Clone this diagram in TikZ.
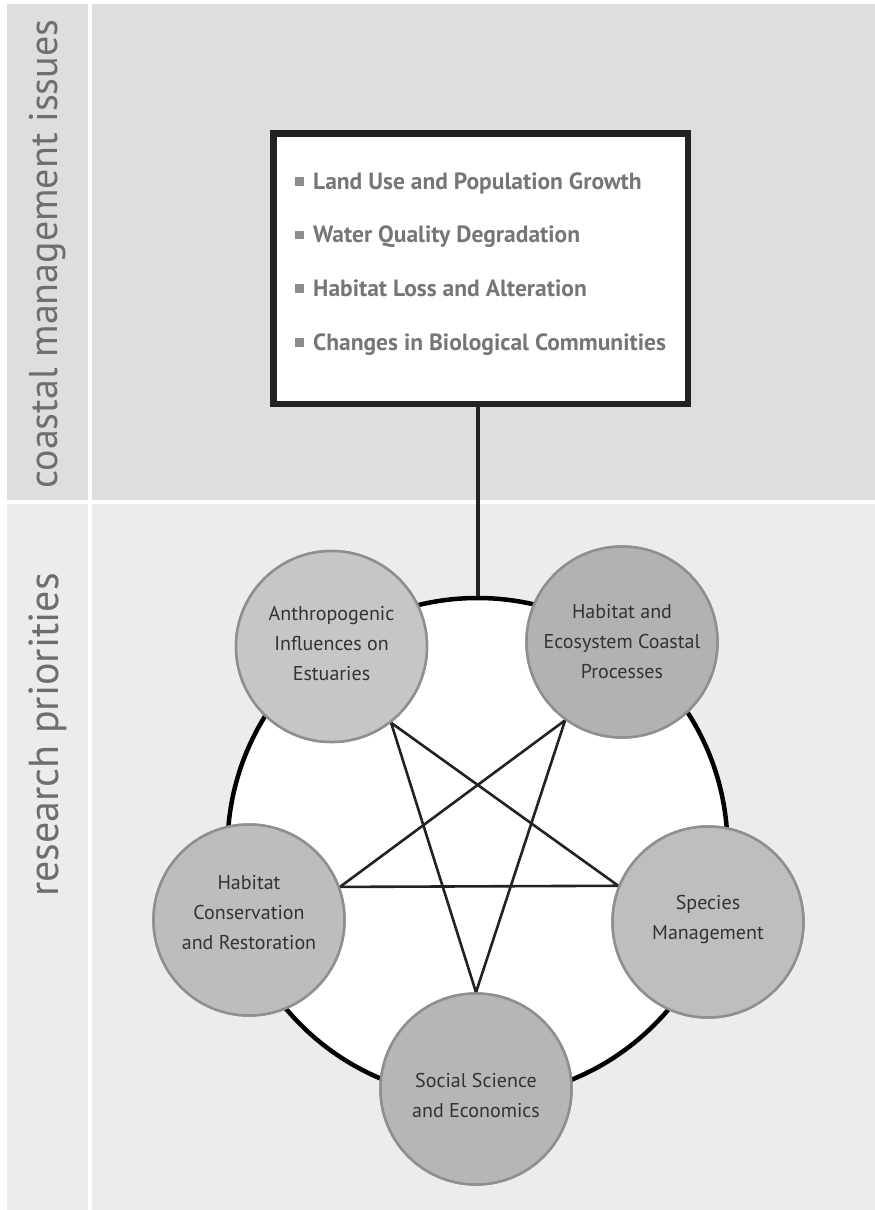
\documentclass[tikz,border=0pt]{standalone}
\usepackage{fontspec}
\setmainfont{PT Sans}
\definecolor{topbg}{HTML}{DEDEDE}
\definecolor{botbg}{HTML}{ECECEC}
\definecolor{labelgray}{HTML}{6E6E6E}
\definecolor{boxline}{HTML}{222222}
\definecolor{itemgray}{HTML}{767676}
\definecolor{bulletgray}{HTML}{8C8C8C}
\definecolor{edgegray}{HTML}{8F8F8F}
\definecolor{textdark}{HTML}{333333}
\definecolor{fillA}{HTML}{C6C6C6}
\definecolor{fillB}{HTML}{B2B2B2}
\definecolor{fillC}{HTML}{BDBDBD}
\definecolor{fillD}{HTML}{B6B6B6}
\definecolor{fillE}{HTML}{BEBEBE}
\begin{document}
\begin{tikzpicture}[x=1pt,y=-1pt,
  sidelabel/.style={rotate=90,inner sep=0pt,text=labelgray,font=\fontsize{40}{40}\selectfont},
  issuebox/.style={draw=boxline,line width=6.5pt,fill=white,rectangle,minimum width=414.5pt,minimum height=270.5pt,inner sep=0pt},
  bulletsq/.style={rectangle,fill=bulletgray,minimum size=8.5pt,inner sep=0pt},
  issue/.style={anchor=base west,inner sep=0pt,text=itemgray,font=\bfseries\fontsize{23.5}{26}\selectfont},
  ring/.style={circle,draw=black,line width=4.5pt,fill=white,minimum size=500pt,inner sep=0pt},
  topic/.style={circle,draw=edgegray,line width=2.5pt,minimum size=191pt,inner sep=0pt},
  topictext/.style={align=center,inner sep=0pt,text=textdark,font=\fontsize{20}{30}\selectfont},
  link/.style={line width=4pt,draw=boxline},
  starline/.style={line width=2.6pt,draw=boxline}
]
\useasboundingbox (0,0) rectangle (875,1210);
\fill[white] (0,0) rectangle (875,1210);
\fill[topbg] (7,4) rectangle (88,500);
\fill[topbg] (92,4) rectangle (875,500);
\fill[botbg] (7,504) rectangle (88,1210);
\fill[botbg] (92,504) rectangle (875,1210);

\node[sidelabel] (lab1) at (48,254) {coastal management issues};
\node[sidelabel,font=\fontsize{42}{42}\selectfont] (lab2) at (48,735) {research priorities};

% ring
\node[ring] (ring) at (477.5,848) {};

% issue box and its link to the ring
\node[issuebox] (box) at (480.5,268.5) {};
\draw[link] (box.south -| ring.north) -- (ring.north);
\node[issuebox] (box2) at (480.5,268.5) {};

\node[bulletsq] (b1) at (299.5,181.5) {};
\node[bulletsq] (b2) at (299.5,235) {};
\node[bulletsq] (b3) at (299.5,288.5) {};
\node[bulletsq] (b4) at (299.5,342.5) {};
\node[issue] (t1) at (313,189) {Land Use and Population Growth};
\node[issue] (t2) at (313,242.5) {Water Quality Degradation};
\node[issue] (t3) at (313,296) {Habitat Loss and Alteration};
\node[issue] (t4) at (313,350) {Changes in Biological Communities};

% topic circles (shapes first for anchors)
\node[topic,fill=fillA] (anth) at (331.5,646.5) {};
\node[topic,fill=fillB] (eco) at (622,642) {};
\node[topic,fill=fillC] (cons) at (249,920) {};
\node[topic,fill=fillE] (spec) at (708,922) {};
\node[topic,fill=fillD] (soc) at (476,1089) {};

% star
\draw[starline] (anth.-52) -- (soc.90);
\draw[starline] (anth.-52) -- (spec.158);
\draw[starline] (eco.-126) -- (cons.20);
\draw[starline] (eco.-126) -- (soc.90);
\draw[starline] (cons.20) -- (spec.158);

% circles on top of star line ends
\node[topic,fill=fillA] (anthc) at (anth) {};
\node[topic,fill=fillB] (ecoc) at (eco) {};
\node[topic,fill=fillC] (consc) at (cons) {};
\node[topic,fill=fillE] (specc) at (spec) {};
\node[topic,fill=fillD] (socc) at (soc) {};

\node[topictext] (anth-t) at (331.5,644) {Anthropogenic\\Influences on\\Estuaries};
\node[topictext] (eco-t) at (622,642) {Habitat and\\Ecosystem Coastal\\Processes};
\node[topictext] (cons-t) at (249,913) {Habitat\\Conservation\\and Restoration};
\node[topictext] (spec-t) at (708,919) {Species\\Management};
\node[topictext] (soc-t) at (476,1095) {Social Science\\and Economics};
\end{tikzpicture}
\end{document}
